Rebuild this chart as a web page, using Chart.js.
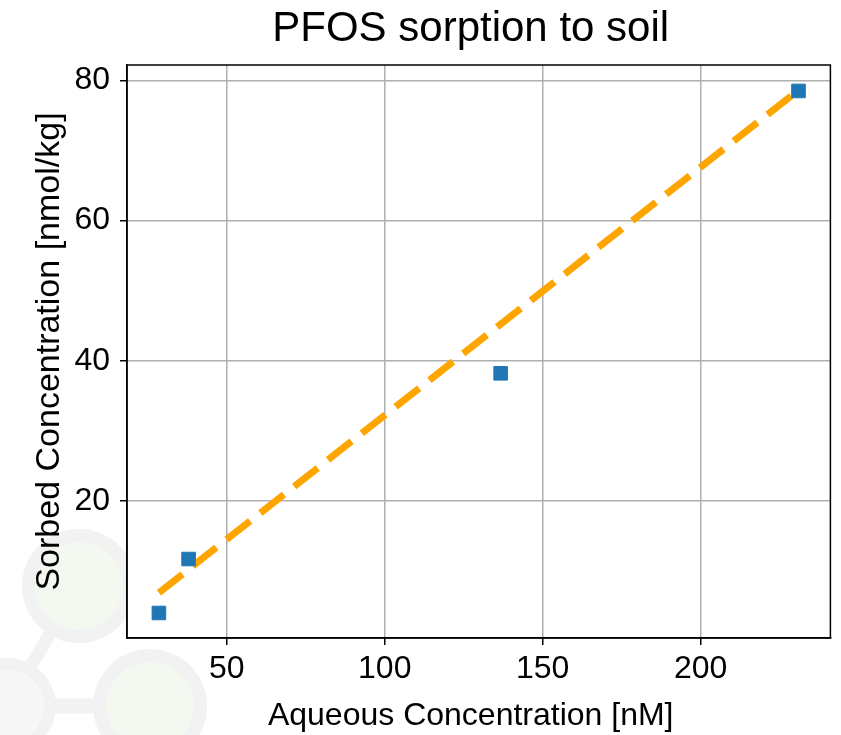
<!DOCTYPE html>
<html>
<head>
<meta charset="utf-8">
<script src="https://cdn.jsdelivr.net/npm/chart.js@4.4.1/dist/chart.umd.min.js"></script>
<style>
  html, body { margin: 0; padding: 0; background: #ffffff; }
  #wrap { width: 841px; height: 735px; }
</style>
</head>
<body>
<div id="wrap"><canvas id="c" width="841" height="735"></canvas></div>
<script>
// ---- data ----
const aqueousConc = [28.5, 37.9, 136.7, 231.0];   // nM
const sorbedConc  = [4.0, 11.7, 38.2, 78.5];      // nmol/kg
const fitX = [28.5, 231.0];
const fitY = [6.9, 78.6];
const xTickValues = [50, 100, 150, 200];
const yTickValues = [20, 40, 60, 80];
const titleText = 'PFOS sorption to soil';
const xLabel = 'Aqueous Concentration [nM]';
const yLabel = 'Sorbed Concentration [nmol/kg]';

const FONT = "'Liberation Sans', Arial, Helvetica, sans-serif";

const pointsData = aqueousConc.map((x, i) => ({ x: x, y: sorbedConc[i] }));
const fitData = fitX.map((x, i) => ({ x: x, y: fitY[i] }));

// faint logo watermark, white axes background, frame and text labels
const decorPlugin = {
  id: 'decor',
  beforeDraw(chart) {
    const ctx = chart.ctx;
    const a = chart.chartArea;
    ctx.save();
    ctx.fillStyle = '#ffffff';
    ctx.fillRect(0, 0, chart.width, chart.height);
    ctx.strokeStyle = '#f2f2f2';
    ctx.lineCap = 'butt';
    ctx.lineWidth = 13;
    ctx.beginPath(); ctx.moveTo(79, 586); ctx.lineTo(10, 700); ctx.stroke();
    ctx.lineWidth = 15;
    ctx.beginPath(); ctx.moveTo(10, 706); ctx.lineTo(150, 706); ctx.stroke();
    const circ = (cx, cy, ro, ri, inner) => {
      ctx.fillStyle = '#f2f2f2';
      ctx.beginPath(); ctx.arc(cx, cy, ro, 0, Math.PI * 2); ctx.fill();
      ctx.fillStyle = inner;
      ctx.beginPath(); ctx.arc(cx, cy, ri, 0, Math.PI * 2); ctx.fill();
    };
    circ(79, 586, 57, 44, '#f3f8f0');
    circ(150, 706, 57, 44, '#f3f8f0');
    circ(8, 706, 48, 36, '#f7f7f7');
    ctx.fillStyle = '#ffffff';
    ctx.fillRect(a.left, a.top, a.right - a.left, a.bottom - a.top);
    ctx.restore();
  },
  afterDraw(chart) {
    const ctx = chart.ctx;
    const a = chart.chartArea;
    ctx.save();
    ctx.strokeStyle = '#000000';
    ctx.lineWidth = 1.5;
    ctx.strokeRect(a.left, a.top, a.right - a.left, a.bottom - a.top);
    ctx.fillStyle = '#000000';
    ctx.textAlign = 'center';
    ctx.textBaseline = 'alphabetic';
    const cx = (a.left + a.right) / 2 - 8;
    ctx.font = '42px ' + FONT;
    ctx.fillText(titleText, cx, 41);
    ctx.font = '32px ' + FONT;
    ctx.fillText(xLabel, cx, 725);
    ctx.restore();
  }
};

new Chart(document.getElementById('c'), {
  type: 'scatter',
  data: {
    datasets: [
      {
        label: 'measured',
        data: pointsData,
        pointStyle: 'rect',
        pointRadius: 9.6,
        pointBackgroundColor: '#1f77b4',
        pointBorderColor: '#1f77b4',
        pointBorderWidth: 1,
        showLine: false
      },
      {
        label: 'fit',
        data: fitData,
        showLine: true,
        borderColor: '#ffa500',
        borderWidth: 7,
        borderDash: [30, 13],
        borderCapStyle: 'butt',
        pointRadius: 0,
        fill: false
      }
    ]
  },
  options: {
    responsive: false,
    animation: false,
    devicePixelRatio: 1,
    layout: { padding: { left: 0, right: 6, top: 65, bottom: 0 } },
    plugins: {
      legend: { display: false },
      tooltip: { enabled: false },
      title: { display: false }
    },
    scales: {
      x: {
        type: 'linear',
        min: 18.4,
        max: 241.1,
        afterBuildTicks: (s) => { s.ticks = xTickValues.map(v => ({ value: v })); },
        afterFit: (s) => { s.height = 97; },
        ticks: {
          color: '#000000',
          font: { family: FONT, size: 32 },
          padding: 5,
          maxRotation: 0,
          callback: (v) => String(v)
        },
        grid: {
          color: '#b0b0b0',
          lineWidth: 1.5,
          drawTicks: true,
          tickLength: 7,
          tickColor: '#000000',
          tickWidth: 1.5
        },
        border: { display: true, color: '#000000', width: 1.5 },
        title: { display: false }
      },
      y: {
        type: 'linear',
        min: 0.43,
        max: 82.2,
        afterBuildTicks: (s) => { s.ticks = yTickValues.map(v => ({ value: v })); },
        afterFit: (s) => { s.width = 127; },
        ticks: {
          color: '#000000',
          font: { family: FONT, size: 32 },
          padding: 10,
          callback: (v) => String(v)
        },
        grid: {
          color: '#b0b0b0',
          lineWidth: 1.5,
          drawTicks: true,
          tickLength: 7,
          tickColor: '#000000',
          tickWidth: 1.5
        },
        border: { display: true, color: '#000000', width: 1.5 },
        title: {
          display: true,
          text: yLabel,
          color: '#000000',
          font: { family: FONT, size: 34, lineHeight: 1.2 },
          padding: { top: 29, bottom: 0 }
        }
      }
    }
  },
  plugins: [decorPlugin]
});
</script>
</body>
</html>
